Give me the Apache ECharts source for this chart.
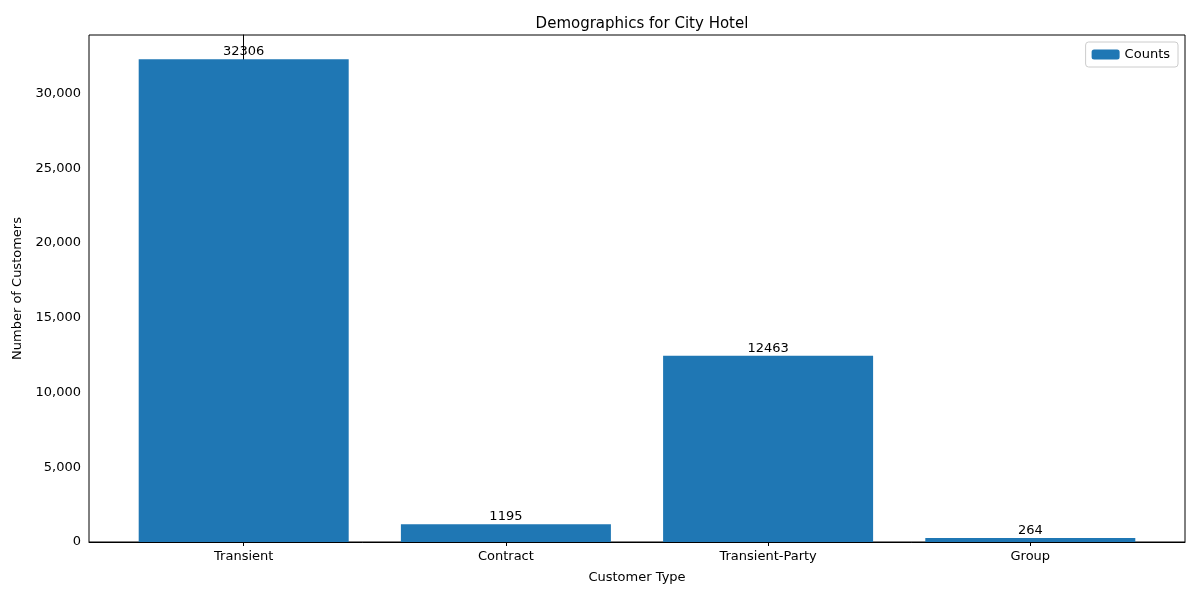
<!DOCTYPE html>
<html><head><meta charset="utf-8">
<script src="https://cdn.jsdelivr.net/npm/echarts@6/dist/echarts.min.js"></script>
<style>html,body{margin:0;padding:0;background:#fff}#c{width:1200px;height:600px}</style>
</head><body><div id="c"></div>
<script>
const categories = ['Transient','Contract','Transient-Party','Group'];
const counts = [32306, 1195, 12463, 264];
const yTicks = [0,5000,10000,15000,20000,25000,30000];
const font = 'DejaVu Sans';
const chart = echarts.init(document.getElementById('c'));
chart.setOption({
  animation:false,
  textStyle:{fontFamily:font},
  title:{text:'Demographics for City Hotel',left:637,top:12,textAlign:'center',
    textStyle:{fontFamily:font,fontSize:15,fontWeight:'normal',color:'#000'}},
  legend:{data:['Counts'],right:22,top:42,orient:'vertical',itemWidth:28,itemHeight:10,
    borderColor:'#ccc',borderWidth:1,borderRadius:3,padding:[6,8,6,6],
    textStyle:{fontFamily:font,fontSize:13,color:'#000'}},
  grid:{left:89,right:15,top:35,bottom:58,show:true,borderColor:'#000',borderWidth:1,containLabel:false},
  xAxis:{type:'value',min:-0.59,max:3.59,name:'Customer Type',nameLocation:'middle',nameGap:29,
    nameTextStyle:{fontFamily:font,fontSize:13,color:'#000'},
    splitLine:{show:false},axisLine:{show:true,lineStyle:{color:'#000'}},
    axisTick:{show:true,customValues:[0,1,2,3],length:4,lineStyle:{color:'#000'}},
    axisLabel:{customValues:[0,1,2,3],formatter:v=>categories[Math.round(v)],
      fontFamily:font,fontSize:13,color:'#000',margin:8}},
  yAxis:{type:'value',min:0,max:33921,interval:5000,name:'Number of Customers',nameLocation:'middle',nameGap:62,
    nameTextStyle:{fontFamily:font,fontSize:13,color:'#000'},
    splitLine:{show:false},axisLine:{show:true,lineStyle:{color:'#000'}},
    axisTick:{show:true,customValues:yTicks,length:4,lineStyle:{color:'#000'}},
    axisLabel:{customValues:yTicks,fontFamily:font,fontSize:13,color:'#000',margin:8}},
  series:[{name:'Counts',type:'bar',barWidth:210,itemStyle:{color:'#1f77b4'},
    data:counts.map((v,i)=>[i,v]),
    label:{show:true,position:'top',distance:1,formatter:p=>p.value[1],fontFamily:font,fontSize:13,color:'#000'}}]
});
</script></body></html>
